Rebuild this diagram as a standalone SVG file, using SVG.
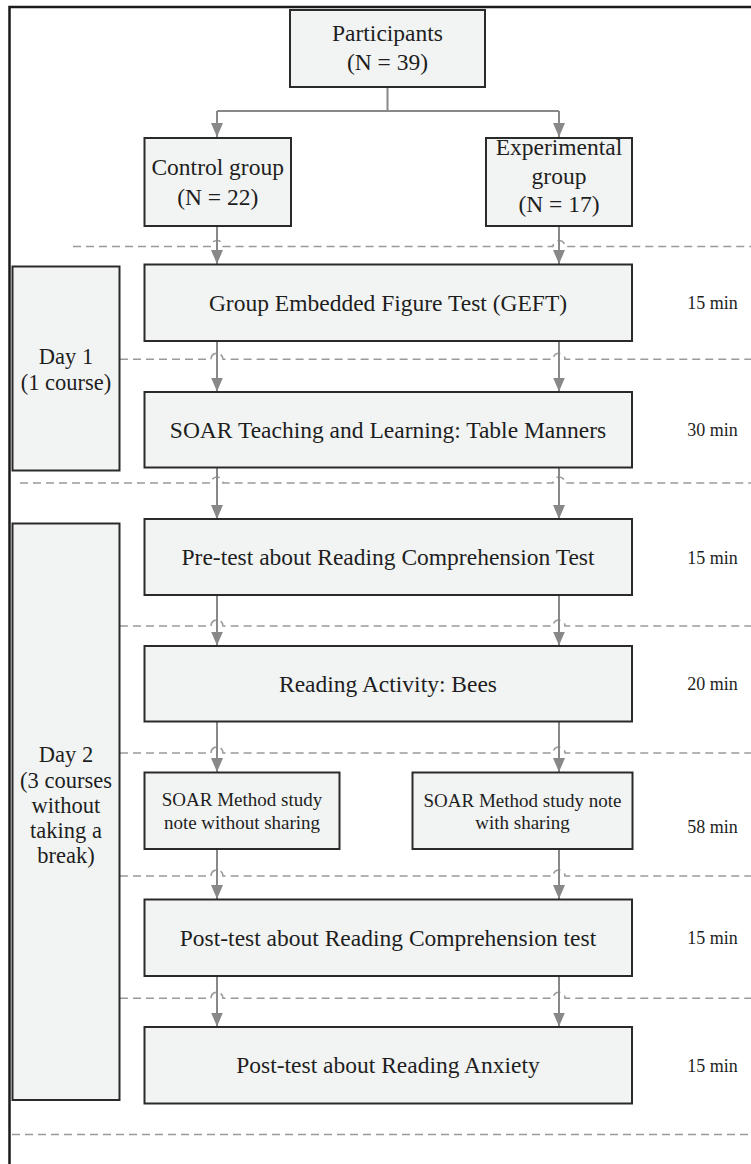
<svg xmlns="http://www.w3.org/2000/svg" width="751" height="1164" viewBox="0 0 751 1164">
<style>
.box{fill:#f2f4f3;stroke:#2a2a2a;stroke-width:2}
.t{font-family:"Liberation Serif","Times New Roman",serif;font-size:23.5px;fill:#1e1e1e;text-anchor:middle}
.s{font-size:19px}
.d{font-size:22.5px}
.m{font-family:"Liberation Serif","Times New Roman",serif;font-size:18px;fill:#1e1e1e;text-anchor:middle}
.c{fill:none;stroke:#888888;stroke-width:2}
.dash{fill:none;stroke:#9a9a9a;stroke-width:1.6;stroke-dasharray:8 5}
</style>
<defs>
<marker id="ah" markerUnits="userSpaceOnUse" markerWidth="15" markerHeight="13" refX="14" refY="6.5" orient="auto">
<path d="M0,0.5 L14,6.5 L0,12.5 z" fill="#888888"/>
</marker>
</defs>
<rect width="751" height="1164" fill="#ffffff"/>
<path d="M9.5 1164 V7 H751" fill="none" stroke="#1a1a1a" stroke-width="2.5"/>

<g id="separators">
<path class="dash" d="M73 246.5 H211 A6 6 0 0 1 223 246.5 H553 A6 6 0 0 1 565 246.5 H751"/>
<path class="dash" d="M120 359.3 H211 A6 6 0 0 1 223 359.3 H553 A6 6 0 0 1 565 359.3 H751"/>
<path class="dash" d="M20 483 H211 A6 6 0 0 1 223 483 H553 A6 6 0 0 1 565 483 H751"/>
<path class="dash" d="M120 626 H211 A6 6 0 0 1 223 626 H553 A6 6 0 0 1 565 626 H751"/>
<path class="dash" d="M120 753 H211 A6 6 0 0 1 223 753 H553 A6 6 0 0 1 565 753 H751"/>
<path class="dash" d="M120 876 H211 A6 6 0 0 1 223 876 H553 A6 6 0 0 1 565 876 H751"/>
<path class="dash" d="M120 998.3 H211 A6 6 0 0 1 223 998.3 H553 A6 6 0 0 1 565 998.3 H751"/>
<path class="dash" d="M12 1134.5 H751"/>
</g>

<g id="connectors">
<path class="c" d="M387.5 87 V111 M217 111 H559"/>
<path class="c" marker-end="url(#ah)" d="M217 111 V137"/>
<path class="c" marker-end="url(#ah)" d="M559 111 V137"/>
<path class="c" marker-end="url(#ah)" d="M217 226 V264"/>
<path class="c" marker-end="url(#ah)" d="M559 226 V264"/>
<path class="c" marker-end="url(#ah)" d="M217 341 V391.5"/>
<path class="c" marker-end="url(#ah)" d="M559 341 V391.5"/>
<path class="c" marker-end="url(#ah)" d="M217 467.5 V519"/>
<path class="c" marker-end="url(#ah)" d="M559 467.5 V519"/>
<path class="c" marker-end="url(#ah)" d="M217 595 V645.5"/>
<path class="c" marker-end="url(#ah)" d="M559 595 V645.5"/>
<path class="c" marker-end="url(#ah)" d="M217 721.5 V772"/>
<path class="c" marker-end="url(#ah)" d="M559 721.5 V772"/>
<path class="c" marker-end="url(#ah)" d="M217 849 V899"/>
<path class="c" marker-end="url(#ah)" d="M559 849 V899"/>
<path class="c" marker-end="url(#ah)" d="M217 976 V1026.5"/>
<path class="c" marker-end="url(#ah)" d="M559 976 V1026.5"/>
</g>

<g id="participants">
<rect class="box" x="290" y="10" width="195" height="77"/>
<text class="t" x="387.5" y="41">Participants</text>
<text class="t" x="387.5" y="70">(N = 39)</text>
</g>
<g id="control">
<rect class="box" x="144.5" y="138" width="146.5" height="88"/>
<text class="t" x="217.7" y="175">Control group</text>
<text class="t" x="217.7" y="205">(N = 22)</text>
</g>
<g id="experimental">
<rect class="box" x="486" y="138" width="146" height="88"/>
<text class="t" x="559" y="155">Experimental</text>
<text class="t" x="559" y="183.5">group</text>
<text class="t" x="559" y="212">(N = 17)</text>
</g>
<g id="day1">
<rect class="box" x="12.5" y="266.5" width="107" height="204"/>
<text class="t d" x="66" y="364">Day 1</text>
<text class="t d" x="66" y="389.5">(1 course)</text>
</g>
<g id="day2">
<rect class="box" x="12.5" y="523.5" width="107" height="576.5"/>
<text class="t d" x="66" y="762">Day 2</text>
<text class="t d" x="66" y="787.5">(3 courses</text>
<text class="t d" x="66" y="813">without</text>
<text class="t d" x="66" y="838">taking a</text>
<text class="t d" x="66" y="863">break)</text>
</g>
<g id="geft">
<rect class="box" x="144.5" y="264.5" width="487.5" height="76.5"/>
<text class="t" x="388" y="310.7">Group Embedded Figure Test (GEFT)</text>
<text class="m" x="712.5" y="309">15 min</text>
</g>
<g id="soar-teaching">
<rect class="box" x="144.5" y="392" width="487.5" height="75.5"/>
<text class="t" x="388" y="437.5">SOAR Teaching and Learning: Table Manners</text>
<text class="m" x="712.5" y="436">30 min</text>
</g>
<g id="pretest">
<rect class="box" x="144.5" y="519" width="487.5" height="76"/>
<text class="t" x="388" y="565">Pre-test about Reading Comprehension Test</text>
<text class="m" x="712.5" y="563.5">15 min</text>
</g>
<g id="reading">
<rect class="box" x="144.5" y="646" width="487.5" height="75.5"/>
<text class="t" x="388" y="691.5">Reading Activity: Bees</text>
<text class="m" x="712.5" y="690">20 min</text>
</g>
<g id="note-without">
<rect class="box" x="144.5" y="772.5" width="195" height="76.5"/>
<text class="t s" x="242" y="806">SOAR Method study</text>
<text class="t s" x="242" y="828.5">note without sharing</text>
</g>
<g id="note-with">
<rect class="box" x="412.5" y="772.5" width="220" height="76.5"/>
<text class="t s" x="522.5" y="806.5">SOAR Method study note</text>
<text class="t s" x="522.5" y="829">with sharing</text>
<text class="m" x="712.5" y="832.7">58 min</text>
</g>
<g id="posttest-comprehension">
<rect class="box" x="144.5" y="899.5" width="487.5" height="76.5"/>
<text class="t" x="388" y="945.5">Post-test about Reading Comprehension test</text>
<text class="m" x="712.5" y="944">15 min</text>
</g>
<g id="posttest-anxiety">
<rect class="box" x="144.5" y="1027" width="487.5" height="76.5"/>
<text class="t" x="388" y="1073">Post-test about Reading Anxiety</text>
<text class="m" x="712.5" y="1071.7">15 min</text>
</g>
</svg>
